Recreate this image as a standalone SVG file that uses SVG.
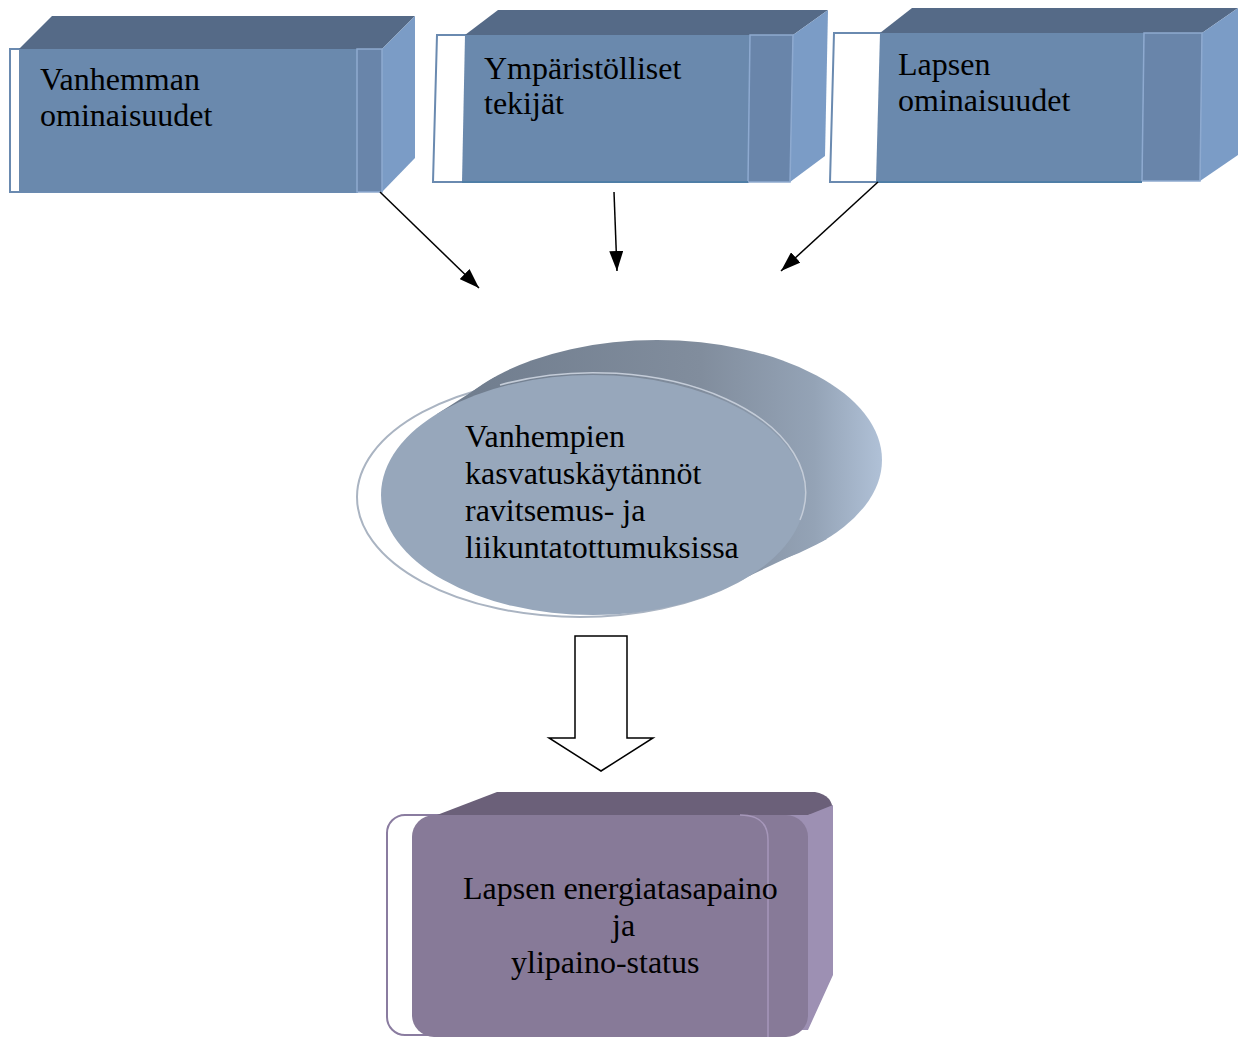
<svg xmlns="http://www.w3.org/2000/svg" width="1239" height="1037" viewBox="0 0 1239 1037">
<style>
.t{font-family:"Liberation Serif","Times New Roman",serif;font-size:32px;fill:#000}
.top{fill:#556a87}
.front{fill:#6a89ad}
.strip{fill:#6985aa;stroke:#8eaad0;stroke-width:1.5}
.side{fill:#7b9cc6}
.wout{fill:#fff;stroke:#6a8ab0;stroke-width:2}
.conn{stroke:#000;stroke-width:1.5;fill:none}
</style>
<defs>
<marker id="ah" viewBox="0 0 20 14" refX="20" refY="7" markerWidth="20" markerHeight="14" markerUnits="userSpaceOnUse" orient="auto">
<path d="M0,0 L20,7 L0,14 Z" fill="#000"/>
</marker>
<linearGradient id="eg" gradientUnits="userSpaceOnUse" x1="430" y1="0" x2="882" y2="0">
<stop offset="0" stop-color="#6e7b8c"/>
<stop offset="0.6" stop-color="#818d9d"/>
<stop offset="0.85" stop-color="#94a3b6"/>
<stop offset="1" stop-color="#b0c1d7"/>
</linearGradient>
</defs>

<g id="node-vanhemman">
<rect class="wout" x="10" y="49" width="347" height="143"/>
<polygon class="top" points="19,49 52,16 415,16 382,49"/>
<polygon class="side" points="382,49 415,16 415,158 382,192"/>
<rect class="front" x="19" y="49" width="338" height="143"/>
<rect class="strip" x="357" y="49" width="25" height="143"/>
<text class="t" x="40" y="90">Vanhemman</text>
<text class="t" x="40" y="126">ominaisuudet</text>
</g>

<g id="node-ymparistolliset">
<polygon class="wout" points="437,35 750,35 748,182 433,182"/>
<polygon class="top" points="465,35 498,10 828,10 793,35"/>
<polygon class="side" points="793,35 828,10 825,156 790,182"/>
<polygon class="front" points="465,35 750,35 748,182 462,182"/>
<polygon class="strip" points="750,35 793,35 790,182 748,182"/>
<line x1="462" y1="182" x2="748" y2="182" stroke="#4f7ea6" stroke-width="2"/>
<text class="t" x="484" y="79">Ympäristölliset</text>
<text class="t" x="484" y="114">tekijät</text>
</g>

<g id="node-lapsen">
<polygon class="wout" points="834,33 1142,33 1140,182 830,182"/>
<polygon class="top" points="880,33 912,8 1238,8 1202,33"/>
<polygon class="side" points="1202,33 1238,8 1238,155 1200,181"/>
<polygon class="front" points="880,33 1144,33 1142,182 876,182"/>
<polygon class="strip" points="1144,33 1202,33 1200,181 1142,181"/>
<line x1="876" y1="182" x2="1142" y2="182" stroke="#4f7ea6" stroke-width="2"/>
<text class="t" x="898" y="75">Lapsen</text>
<text class="t" x="898" y="111">ominaisuudet</text>
</g>

<g id="connectors">
<line class="conn" x1="380" y1="192" x2="479" y2="288" marker-end="url(#ah)"/>
<line class="conn" x1="614" y1="192" x2="617" y2="271" marker-end="url(#ah)"/>
<line class="conn" x1="878" y1="182" x2="781" y2="271" marker-end="url(#ah)"/>
<polygon points="575,636 627,636 627,738 653,738 601,771 549,738 575,738" fill="#fff" stroke="#000" stroke-width="1.5"/>
</g>

<g id="node-vanhempien">
<ellipse cx="580" cy="497" rx="223" ry="120" fill="#fff" stroke="#aab4c2" stroke-width="2"/>
<polygon points="437,414 495,377 827,539 749,576" fill="url(#eg)"/>
<ellipse cx="657" cy="460" rx="225" ry="120" fill="url(#eg)"/>
<ellipse cx="593" cy="495" rx="212" ry="120" fill="#97a7bb"/>
<path d="M500,385 A212,120 0 0 1 800,520" fill="none" stroke="#c4ccd8" stroke-width="1.5"/>
<text class="t" x="465" y="447">Vanhempien</text>
<text class="t" x="465" y="484">kasvatuskäytännöt</text>
<text class="t" x="465" y="521">ravitsemus- ja</text>
<text class="t" x="465" y="558">liikuntatottumuksissa</text>
</g>

<g id="node-energiatasapaino">
<rect x="387" y="815" width="400" height="220" rx="18" fill="#fff" stroke="#8a7ca0" stroke-width="2"/>
<path d="M437,815 L497,792 L815,792 Q833,795 833,812 L808,815 Z" fill="#6b6079"/>
<path d="M780,815 L808,815 L833,805 L833,975 L808,1030 L780,1030 Z" fill="#9d90b3"/>
<rect x="412" y="815" width="396" height="222" rx="22" fill="#877a98"/>
<path d="M740,815 Q768,815 768,840 L768,1037" fill="none" stroke="#a697ba" stroke-width="1.5"/>
<text class="t" x="463" y="899">Lapsen energiatasapaino</text>
<text class="t" x="612" y="936">ja</text>
<text class="t" x="511" y="973">ylipaino-status</text>
</g>
</svg>
